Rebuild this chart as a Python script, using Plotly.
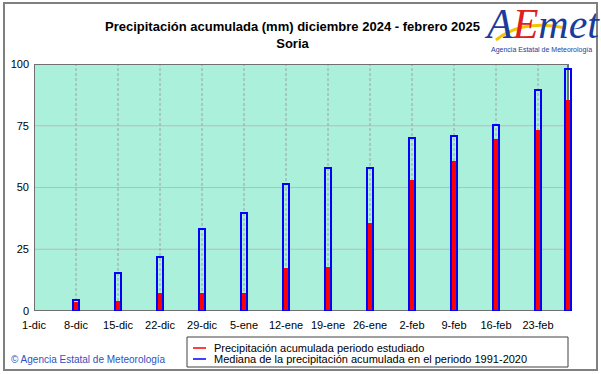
import plotly.graph_objects as go

# ---- data ----
tick_days = [0, 7, 14, 21, 28, 35, 42, 49, 56, 63, 70, 77, 84]
tick_labels = ["1-dic", "8-dic", "15-dic", "22-dic", "29-dic", "5-ene", "12-ene",
               "19-ene", "26-ene", "2-feb", "9-feb", "16-feb", "23-feb"]
bar_days = [7, 14, 21, 28, 35, 42, 49, 56, 63, 70, 77, 84, 89]
observed = [3.5, 4.0, 7.4, 7.4, 7.4, 17.4, 17.8, 35.6, 53.0, 60.9, 69.8, 73.3, 85.4]
median = [4.6, 15.5, 21.7, 33.2, 39.8, 51.4, 57.8, 57.8, 69.9, 71.0, 75.4, 89.6, 97.8]
y_ticks = [0, 25, 50, 75, 100]
last_day = 89
x_max = 90

title1 = "Precipitación acumulada (mm) diciembre 2024 - febrero 2025"
title2 = "Soria"
leg_obs = "Precipitación acumulada periodo estudiado"
leg_med = "Mediana de la precipitación acumulada en el periodo 1991-2020"
copyright_txt = "© Agencia Estatal de Meteorología"

W, H = 601, 374
L, R, T, B = 34, 574, 64, 311

def px(x):
    return (x - L) / (R - L)

def py(y):
    return (B - y) / (B - T)

FONT = "Liberation Sans, Arial, sans-serif"

fig = go.Figure()
fig.add_trace(go.Bar(x=bar_days, y=observed, width=0.75,
                     marker=dict(color="#ff0000", line=dict(width=0)),
                     showlegend=False, hoverinfo="x+y"))
fig.add_trace(go.Bar(x=bar_days, y=median, width=1.0,
                     marker=dict(color="rgba(0,0,0,0)", line=dict(color="#0000ff", width=2)),
                     showlegend=False, hoverinfo="x+y"))

shapes = []
# plot background
shapes.append(dict(type="rect", xref="x", yref="y", x0=0, x1=last_day, y0=0, y1=100,
                   fillcolor="#abf0da", line=dict(width=0), layer="below"))
# horizontal gridlines
for v in y_ticks[1:-1]:
    shapes.append(dict(type="line", xref="x", yref="y", x0=0, x1=last_day, y0=v, y1=v,
                       line=dict(color="#c4b4c4", width=1), layer="below"))
# vertical dashed gridlines
for d in tick_days[1:]:
    shapes.append(dict(type="line", xref="x", yref="y", x0=d, x1=d, y0=0, y1=100,
                       line=dict(color="#a0a0a0", width=1, dash="3px,2px"), layer="below"))
# plot frame
shapes.append(dict(type="rect", xref="x", yref="y", x0=0, x1=last_day, y0=0, y1=100,
                   line=dict(color="#707070", width=2), fillcolor="rgba(0,0,0,0)", layer="below"))
# legend box
shapes.append(dict(type="rect", xref="paper", yref="paper", x0=px(187), x1=px(568),
                   y0=py(367), y1=py(337), line=dict(color="#404040", width=1),
                   fillcolor="white"))
shapes.append(dict(type="line", xref="paper", yref="paper", x0=px(193), x1=px(206),
                   y0=py(348), y1=py(348), line=dict(color="#ff0000", width=1.5)))
shapes.append(dict(type="line", xref="paper", yref="paper", x0=px(193), x1=px(206),
                   y0=py(359), y1=py(359), line=dict(color="#0000ff", width=1.5)))
# outer frame
shapes.append(dict(type="rect", xref="paper", yref="paper", x0=px(4), x1=px(597),
                   y0=py(370), y1=py(3), line=dict(color="#808080", width=2),
                   fillcolor="rgba(0,0,0,0)", layer="below"))
# logo swoosh
sw = "M {} {} Q {} {} {} {}".format(px(496), py(40), px(522), py(19), px(566), py(28))
shapes.append(dict(type="path", xref="paper", yref="paper", path=sw,
                   line=dict(color="#f5c400", width=3)))

annotations = [
    dict(text="<b>" + title1 + "</b><br><b>" + title2 + "</b>", xref="paper", yref="paper",
         x=px(292), y=py(35.5), xanchor="center", yanchor="middle", showarrow=False,
         font=dict(family="Liberation Sans Narrow, Arial Narrow, Liberation Sans, Arial", size=13, color="#000000")),
    dict(text=leg_obs, xref="paper", yref="paper", x=px(212), y=py(348), xanchor="left",
         yanchor="middle", showarrow=False, font=dict(family=FONT, size=11, color="#000000")),
    dict(text=leg_med, xref="paper", yref="paper", x=px(212), y=py(359), xanchor="left",
         yanchor="middle", showarrow=False, font=dict(family=FONT, size=11, color="#000000")),
    dict(text=copyright_txt, xref="paper", yref="paper", x=px(9), y=py(359), xanchor="left",
         yanchor="middle", showarrow=False, font=dict(family=FONT, size=10, color="#3050c0")),
    dict(text="<i><span style='color:#1a3c9c'>A</span><span style='color:#e02020'>E</span><span style='color:#1a3c9c'>met</span></i>",
         xref="paper", yref="paper", x=px(542), y=py(24), xanchor="center", yanchor="middle",
         showarrow=False, font=dict(family="Liberation Serif, serif", size=42, color="#1a3c9c")),
    dict(text="Agencia Estatal de Meteorología", xref="paper", yref="paper", x=px(541), y=py(50),
         xanchor="center", yanchor="middle", showarrow=False,
         font=dict(family=FONT, size=7, color="#1a3c9c")),
]

fig.update_layout(
    width=W, height=H,
    margin=dict(l=L, r=W - R, t=T, b=H - B, pad=0),
    paper_bgcolor="white", plot_bgcolor="white",
    barmode="overlay", bargap=0,
    showlegend=False,
    shapes=shapes, annotations=annotations,
    xaxis=dict(range=[0, x_max], tickvals=tick_days, ticktext=tick_labels,
               showgrid=False, zeroline=False, showline=False, ticks="",
               ticklabelstandoff=6,
               tickfont=dict(family=FONT, size=11, color="#000000"), fixedrange=True),
    yaxis=dict(range=[0, 100], tickvals=y_ticks, ticktext=[str(v) for v in y_ticks],
               showgrid=False, zeroline=False, showline=False, ticks="",
               ticklabelstandoff=4,
               tickfont=dict(family=FONT, size=11, color="#000000"), fixedrange=True),
)

fig.write_html("out.html", config={"displayModeBar": False},
               post_script="document.body.style.margin='0';")
